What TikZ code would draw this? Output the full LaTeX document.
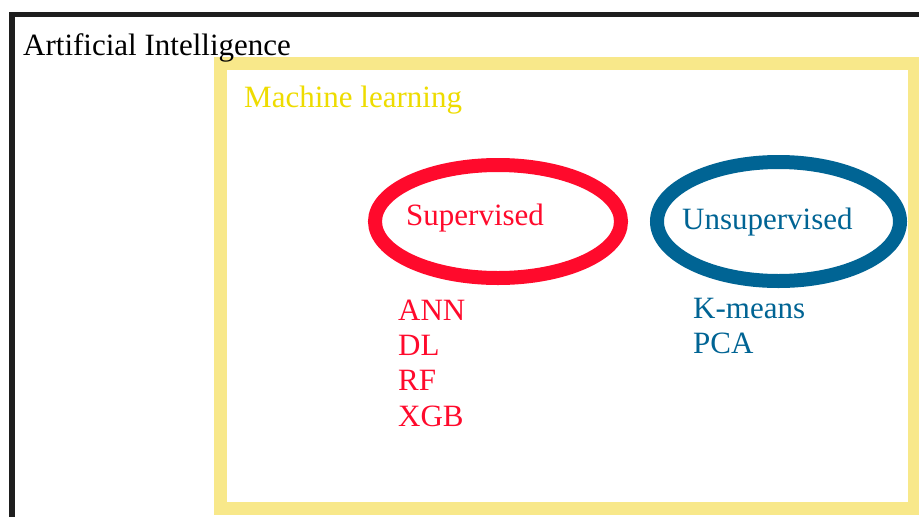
\documentclass[tikz,border=0pt]{standalone}
\usepackage{fontspec}
\setmainfont{Liberation Serif}
\usetikzlibrary{shapes.geometric}
\definecolor{negroIA}{HTML}{1E1E1E}
\definecolor{amarilloMarco}{HTML}{F8E88A}
\definecolor{amarilloML}{HTML}{EEDC00}
\definecolor{rojoSup}{HTML}{FF0A2C}
\definecolor{azulNoSup}{HTML}{006494}
\tikzset{
  texto/.style={anchor=base west,inner sep=0pt,font=\fontsize{31}{35}\selectfont},
  ovalo/.style={ellipse,draw=#1,line width=14pt,inner sep=0pt}
}

\begin{document}
\begin{tikzpicture}[x=1pt,y=-1pt]
  \clip (0,0) rectangle (919,517);
  \fill[white] (0,0) rectangle (919,517);
  \draw[negroIA,line width=5.5pt] (12,14.5) rectangle (940,540);       % marco IA
  \draw[amarilloMarco,line width=13pt] (220,63.5) rectangle (914.5,508.5); % marco ML
  \node[texto] (ia) at (23,55) {Artificial Intelligence};
  \node[texto,text=amarilloML] (ml) at (244,107) {Machine learning};
  \node[ovalo=rojoSup,minimum width=246pt,minimum height=113pt] (sup) at (498,221.5) {};
  \node[ovalo=azulNoSup,minimum width=243pt,minimum height=119pt] (nosup) at (778.5,221.5) {};
  \node[texto,text=rojoSup] (supTxt) at (406,225) {Supervised};
  \node[texto,text=azulNoSup] (nosupTxt) at (682,229) {Unsupervised};
  \node[texto,text=rojoSup] (ann) at (398,320) {ANN};
  \node[texto,text=rojoSup] (dl) at (398,355.3) {DL};
  \node[texto,text=rojoSup] (rf) at (398,390.6) {RF};
  \node[texto,text=rojoSup] (xgb) at (398,426) {XGB};
  \node[texto,text=azulNoSup] (kmeans) at (693,318) {K-means};
  \node[texto,text=azulNoSup] (pca) at (693,353) {PCA};
\end{tikzpicture}
\end{document}
